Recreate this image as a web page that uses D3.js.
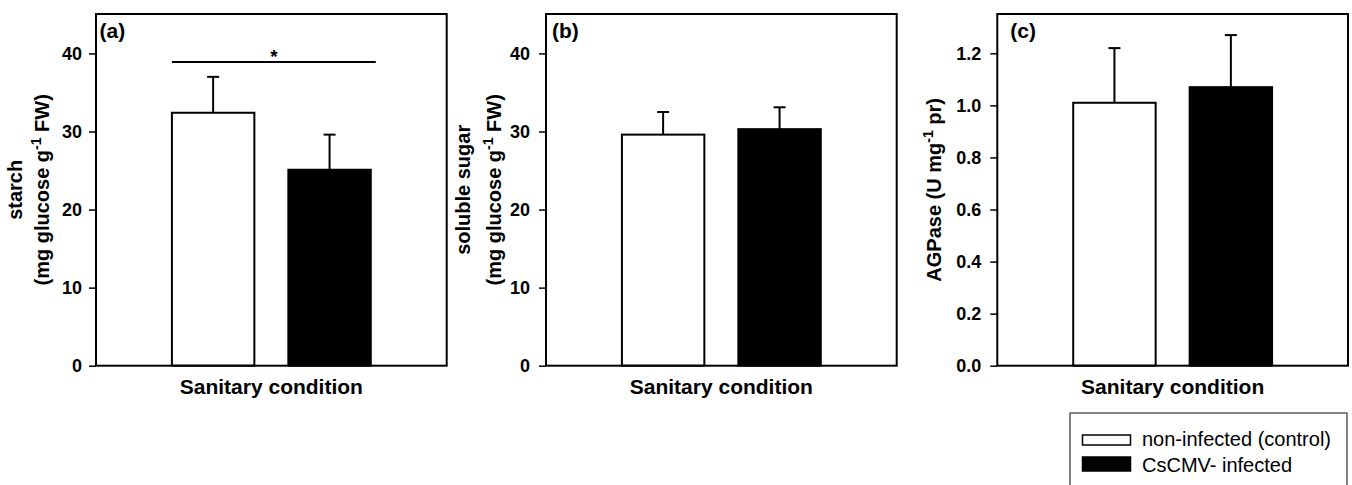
<!DOCTYPE html>
<html lang="en">
<head>
<meta charset="UTF-8" />
<title>Starch, soluble sugar and AGPase by sanitary condition</title>
<script src="https://d3js.org/d3.v7.min.js"></script>
<style>
  body { margin: 0; background: #fff; }
  svg { display: block; font-family: "Liberation Sans", Arial, sans-serif; }
</style>
</head>
<body>
<script>
// data
const categories = ["non-infected (control)", "CsCMV- infected"];
const barColors = ["#fff", "#000"];

const starchMean = [32.4, 25.1];
const starchErr = [4.6, 4.5];
const starchSig = 38.9; // line over both bars, marked *

const sugarMean = [29.6, 30.3];
const sugarErr = [2.9, 2.8];

const agpaseMean = [1.01, 1.07];
const agpaseErr = [0.21, 0.20];

const mgTicks = [0, 10, 20, 30, 40];
const agpaseTicks = [0, 0.2, 0.4, 0.6, 0.8, 1.0, 1.2];

const W = 1352, H = 485;
const plotTop = 14, panelW = 350.7, panelH = 351.7;

const svg = d3.select("body").append("svg").attr("width", W).attr("height", H);

const panels = [
  { tag: "(a)", left: 96, tagX: 3.5, mean: starchMean, err: starchErr, domain: [0, 45.05], ticks: mgTicks,
    fmt: d3.format("d"), pad: 7,
    label: [{ x: 22, parts: ["starch"] }, { x: 49, parts: ["(mg glucose g", "-1", " FW)"] }] },
  { tag: "(b)", left: 546, tagX: 6, mean: sugarMean, err: sugarErr, domain: [0, 45.05], ticks: mgTicks,
    fmt: d3.format("d"), pad: 9,
    label: [{ x: 470, parts: ["soluble sugar"] }, { x: 501, parts: ["(mg glucose g", "-1", " FW)"] }] },
  { tag: "(c)", left: 997.3, tagX: 13, mean: agpaseMean, err: agpaseErr, domain: [0, 1.351], ticks: agpaseTicks,
    fmt: d3.format(".1f"), pad: 9,
    label: [{ x: 941, parts: ["AGPase (U mg", "-1", " pr)"] }] }
];

panels.forEach((p, pi) => {
  const g = svg.append("g").attr("transform", `translate(${p.left},${plotTop})`);

  const x = d3.scaleBand().domain(categories).range([0, panelW])
    .paddingInner(0.292).paddingOuter(0.652);
  const y = d3.scaleLinear().domain(p.domain).range([panelH, 0]);

  // y axis, ticks outside
  g.append("g")
    .call(d3.axisLeft(y).tickValues(p.ticks).tickSize(7).tickPadding(p.pad).tickFormat(p.fmt))
    .attr("font-family", null)
    .call(a => a.select(".domain").remove())
    .call(a => a.selectAll("line").attr("stroke", "#000").attr("stroke-width", 1.5))
    .call(a => a.selectAll("text").attr("font-size", 18).attr("font-weight", "bold").attr("fill", "#000"));

  // error bars (upper only)
  const eb = g.selectAll("g.err").data(categories).join("g").attr("class", "err");
  eb.append("line")
    .attr("x1", d => x(d) + x.bandwidth() / 2).attr("x2", d => x(d) + x.bandwidth() / 2)
    .attr("y1", (d, i) => y(p.mean[i])).attr("y2", (d, i) => y(p.mean[i] + p.err[i]))
    .attr("stroke", "#000").attr("stroke-width", 2);
  eb.append("line")
    .attr("x1", d => x(d) + x.bandwidth() / 2 - 6).attr("x2", d => x(d) + x.bandwidth() / 2 + 6)
    .attr("y1", (d, i) => y(p.mean[i] + p.err[i])).attr("y2", (d, i) => y(p.mean[i] + p.err[i]))
    .attr("stroke", "#000").attr("stroke-width", 2);

  // bars
  g.selectAll("rect.bar").data(categories).join("rect")
    .attr("class", "bar")
    .attr("x", d => x(d))
    .attr("y", (d, i) => y(p.mean[i]))
    .attr("width", x.bandwidth())
    .attr("height", (d, i) => y(0) - y(p.mean[i]))
    .attr("fill", (d, i) => barColors[i])
    .attr("stroke", "#000").attr("stroke-width", 2);

  // significance marker in panel (a)
  if (pi === 0) {
    const x0 = x(categories[0]), x1 = x(categories[1]) + x.bandwidth() + 5;
    g.append("line").attr("x1", x0).attr("x2", x1)
      .attr("y1", y(starchSig)).attr("y2", y(starchSig))
      .attr("stroke", "#000").attr("stroke-width", 2);
    g.append("text").attr("x", (x0 + x1) / 2).attr("y", y(starchSig) + 1)
      .attr("text-anchor", "middle").attr("font-size", 19).attr("font-weight", "bold")
      .text("*");
  }

  // frame
  g.append("rect").attr("width", panelW).attr("height", panelH)
    .attr("fill", "none").attr("stroke", "#000").attr("stroke-width", 2);

  // panel tag
  g.append("text").attr("x", p.tagX).attr("y", 24)
    .attr("font-size", 21).attr("font-weight", "bold").text(p.tag);

  // x title
  g.append("text").attr("x", panelW / 2).attr("y", panelH + 28)
    .attr("text-anchor", "middle").attr("font-size", 21).attr("font-weight", "bold")
    .text("Sanitary condition");

  // y title (rotated, with superscript)
  p.label.forEach(line => {
    const t = svg.append("text")
      .attr("transform", `translate(${line.x},${plotTop + panelH / 2}) rotate(-90)`)
      .attr("text-anchor", "middle").attr("font-size", 20).attr("font-weight", "bold");
    line.parts.forEach((s, k) => {
      const ts = t.append("tspan").text(s);
      if (k === 1) ts.attr("font-size", 14).attr("dy", -8);
      if (k === 2) ts.attr("dy", 8);
    });
  });
});

// legend
const lg = svg.append("g").attr("transform", "translate(1070,413)");
lg.append("rect").attr("width", 277).attr("height", 90)
  .attr("fill", "#fff").attr("stroke", "#333").attr("stroke-width", 1.2);
const swatchY = [22, 44], swatchH = [10, 14];
categories.forEach((c, i) => {
  lg.append("rect").attr("x", 12.5).attr("y", swatchY[i])
    .attr("width", 48).attr("height", swatchH[i])
    .attr("fill", barColors[i]).attr("stroke", "#000").attr("stroke-width", 1.5);
  lg.append("text").attr("x", 72).attr("y", [33, 59][i])
    .attr("font-size", 20).attr("fill", "#000").text(c);
});
</script>
</body>
</html>
